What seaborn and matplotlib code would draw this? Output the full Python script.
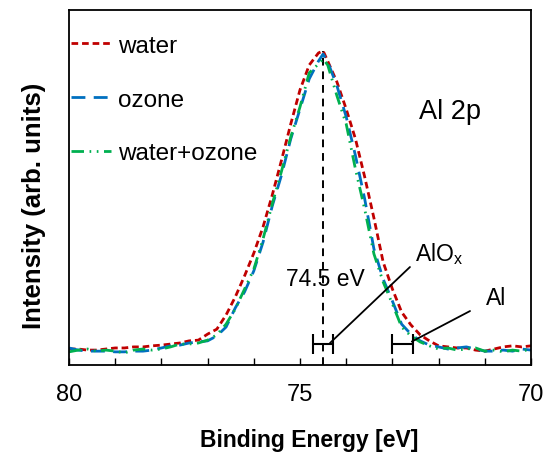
import numpy as np
import pandas as pd
import matplotlib
matplotlib.use("Agg")
import matplotlib.pyplot as plt
import seaborn as sns

# ---- data ----
energy = [80.0, 79.8, 79.6, 79.4, 79.2, 79.0, 78.8, 78.6, 78.4, 78.2,
          78.0, 77.8, 77.6, 77.4, 77.2, 77.0, 76.8, 76.6, 76.4, 76.2,
          76.0, 75.8, 75.6, 75.4, 75.2, 75.0, 74.8, 74.6, 74.5, 74.4,
          74.2, 74.0, 73.8, 73.6, 73.4, 73.2, 73.0, 72.8, 72.6, 72.4,
          72.2, 72.0, 71.8, 71.6, 71.4, 71.2, 71.0, 70.8, 70.6, 70.4,
          70.2, 70.0]

water = [0.045, 0.045, 0.042, 0.042, 0.045, 0.048, 0.048, 0.051, 0.051, 0.054,
         0.056, 0.059, 0.062, 0.068, 0.070, 0.087, 0.101, 0.141, 0.192, 0.251,
         0.315, 0.389, 0.479, 0.577, 0.679, 0.775, 0.845, 0.879, 0.885, 0.856,
         0.797, 0.721, 0.637, 0.530, 0.414, 0.290, 0.214, 0.149, 0.113, 0.085,
         0.068, 0.054, 0.051, 0.048, 0.048, 0.042, 0.039, 0.045, 0.051, 0.054,
         0.051, 0.054]

ozone = [0.048, 0.042, 0.039, 0.039, 0.039, 0.037, 0.037, 0.039, 0.039, 0.042,
         0.048, 0.054, 0.056, 0.062, 0.065, 0.068, 0.082, 0.107, 0.161, 0.206,
         0.265, 0.346, 0.448, 0.535, 0.637, 0.721, 0.806, 0.856, 0.876, 0.854,
         0.786, 0.699, 0.590, 0.468, 0.327, 0.242, 0.180, 0.115, 0.087, 0.068,
         0.056, 0.051, 0.045, 0.048, 0.051, 0.045, 0.039, 0.039, 0.042, 0.039,
         0.045, 0.042]

water_ozone = [0.037, 0.042, 0.045, 0.039, 0.042, 0.039, 0.034, 0.042, 0.045, 0.042,
               0.045, 0.051, 0.059, 0.059, 0.062, 0.070, 0.085, 0.115, 0.158, 0.214,
               0.270, 0.355, 0.454, 0.546, 0.642, 0.727, 0.823, 0.848, 0.862, 0.845,
               0.758, 0.679, 0.552, 0.439, 0.313, 0.234, 0.172, 0.107, 0.082, 0.065,
               0.054, 0.045, 0.048, 0.042, 0.045, 0.048, 0.039, 0.042, 0.037, 0.042,
               0.039, 0.045]

series_labels = ["water", "ozone", "water+ozone"]
peak_energy = 74.5
peak_label = "74.5 eV"
alox_center, alox_halfwidth = 74.5, 0.22
al_center, al_halfwidth = 72.78, 0.23
tick_labels = {80: "80", 75: "75", 70: "70"}

# ---- style ----
sns.set_theme(style="white")
plt.rcParams["font.family"] = ["Liberation Sans", "DejaVu Sans"]
plt.rcParams["mathtext.fontset"] = "custom"
plt.rcParams["mathtext.rm"] = "Liberation Sans"
plt.rcParams["mathtext.it"] = "Liberation Sans"
plt.rcParams["text.color"] = "black"
plt.rcParams["axes.labelcolor"] = "black"
plt.rcParams["xtick.color"] = "black"
plt.rcParams["ytick.color"] = "black"

fig = plt.figure(figsize=(5.47, 4.56), dpi=100)
ax = fig.add_axes([69 / 547, 90 / 456, 462 / 547, 355 / 456])

colors = ["#C00000", "#0070C0", "#00B050"]
styles = [(0, (2.4, 1.4)), (0, (5.0, 3.0)), (0, (4.5, 2.0, 0.6, 2.0, 0.6, 2.0))]
for vals, lab, c, ls in zip([water, ozone, water_ozone], series_labels, colors, styles):
    sns.lineplot(x=energy, y=vals, ax=ax, color=c, linestyle=ls, lw=2.0,
                 label=lab, sort=False)

# peak marker line
peak_y = max(water)
ax.plot([peak_energy, peak_energy], [0, peak_y], color="black", lw=1.4,
        linestyle=(0, (4, 3)), zorder=1)
ax.text(peak_energy - 0.05, 0.245, peak_label, fontsize=16.5, ha="center",
        va="center", color="black")

# component markers
ax.errorbar([alox_center], [0.059], xerr=[alox_halfwidth], color="black",
            lw=1.5, capsize=7, capthick=1.5, fmt="none")
ax.errorbar([al_center], [0.059], xerr=[al_halfwidth], color="black",
            lw=1.5, capsize=7, capthick=1.5, fmt="none")

# annotation leader lines
ax.plot([74.35, 72.62], [0.062, 0.276], color="black", lw=1.3)
ax.plot([72.58, 71.32], [0.066, 0.152], color="black", lw=1.3)
ax.text(72.52, 0.315, "AlO$_\\mathrm{x}$", fontsize=16.5, ha="left", va="center")
ax.text(70.98, 0.19, "Al", fontsize=16.5, ha="left", va="center")
ax.text(72.42, 0.715, "Al 2p", fontsize=19.5, ha="left", va="center")

# axes
ax.set_xlim(80, 70)
ax.set_ylim(0, 1)
ticks = list(range(80, 69, -1))
ax.set_xticks(ticks)
ax.set_xticklabels([tick_labels.get(t, "") for t in ticks], fontsize=17)
ax.tick_params(axis="x", direction="in", length=5, width=1, pad=13,
               colors="black", bottom=True)
ax.set_yticks([])
for sp in ax.spines.values():
    sp.set_color("black")
    sp.set_linewidth(1.3)
    sp.set_visible(True)

ax.set_xlabel("Binding Energy [eV]", fontsize=16.5, fontweight="bold")
ax.xaxis.set_label_coords(0.52, -0.177)
ax.set_ylabel("Intensity (arb. units)", fontsize=18.5, fontweight="bold")
ax.yaxis.set_label_coords(-0.05, 0.45)

leg = ax.legend(loc="upper left", bbox_to_anchor=(-0.0165, 0.957), frameon=False,
                fontsize=17.5, handlelength=1.65, handletextpad=0.3,
                labelspacing=1.30, borderaxespad=0.0)
for t in leg.get_texts():
    t.set_color("black")

fig.savefig("out.png", dpi=100)
